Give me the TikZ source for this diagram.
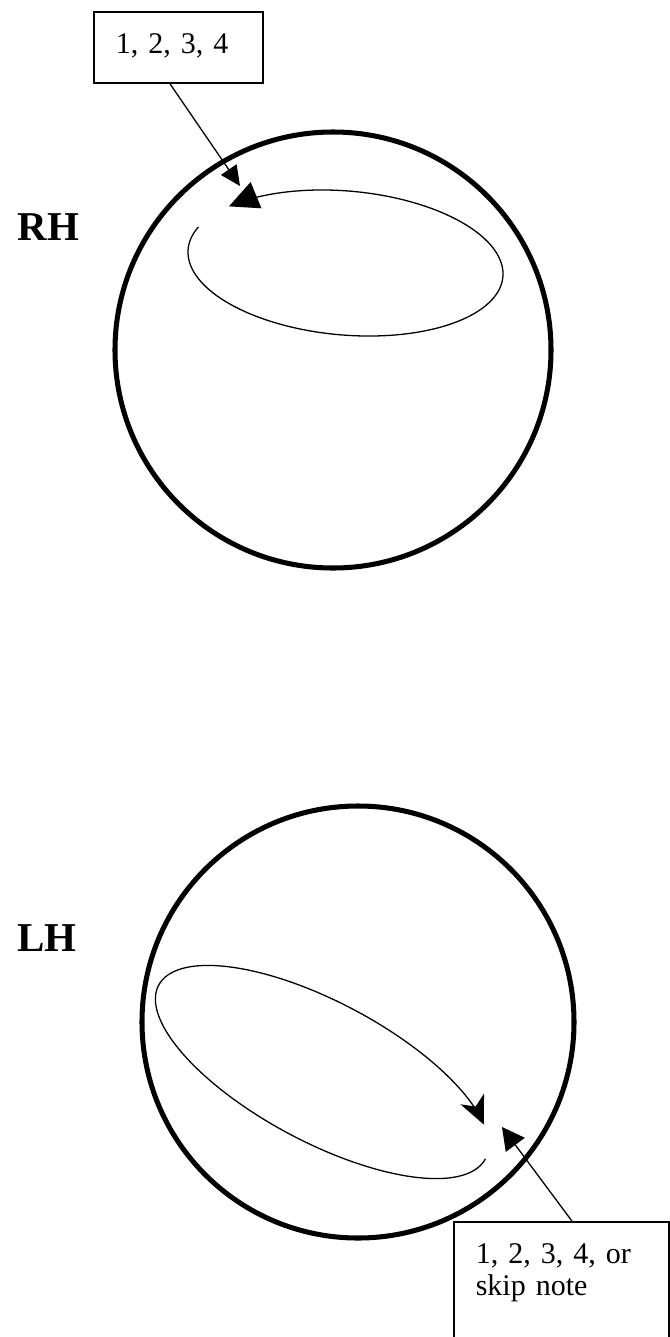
\documentclass[tikz,border=0pt]{standalone}
\usepackage{fontspec}
\setmainfont{Liberation Serif}
\usetikzlibrary{arrows.meta}

\begin{document}
\begin{tikzpicture}[x=0.03cm, y=-0.03cm, line width=1.1pt,
    esfera/.style={line width=4.3pt},
    bucle/.style={line width=1.1pt},
    nota/.style={draw, line width=1.4pt, inner xsep=0.66cm, inner ysep=0pt, align=left,
        text height=1.23cm, font=\fontsize{25.6pt}{27.3pt}\selectfont},
    mano/.style={inner sep=0pt, font=\fontsize{35pt}{40pt}\selectfont\bfseries},
    flecha/.style={-{Triangle[length=17pt,width=16pt]}}]
    \useasboundingbox (0,0) rectangle (670,1337);
    % mano derecha (arriba)
    \node[mano,anchor=base west] (rh) at (17,240) {RH};
    \draw[esfera] (333,350) circle[radius=6.54cm];
    % bucle: elipse girada 5 grados, centro (345.5,263)
    \draw[bucle,-{Triangle[length=25pt,width=24pt]}] plot[domain=198.6:-140,samples=140,variable=\t]
        ({345.5+158*cos(\t)*cos(5)-72*sin(\t)*sin(5)},{263+158*cos(\t)*sin(5)+72*sin(\t)*cos(5)});
    \node[nota,text width=3.75cm,text depth=0.9cm,anchor=base west] (notaA) at (93,53) {1, 2, 3, 4};
    \coordinate (puntaA) at (240,186);
    \draw[flecha] ([xshift=2.31cm]notaA.south west) -- (puntaA);
    % mano izquierda (abajo)
    \node[mano,anchor=base west] (lh) at (17,951) {LH};
    \draw[esfera] (358,1022) circle[radius=6.48cm];
    % bucle: elipse girada 28 grados, centro (322,1072)
    \draw[bucle,-{Stealth[length=24pt,width=22pt,inset=7pt]}] plot[domain=0:335,samples=140,variable=\t]
        ({322+185*cos(\t)*cos(28)-70*sin(\t)*sin(28)},{1072+185*cos(\t)*sin(28)+70*sin(\t)*cos(28)});
    \node[nota,text width=5.13cm,text depth=3cm,anchor=base west] (notaB) at (453,1263)
        {1, 2, 3, 4, or\\skip note};
    \coordinate (puntaB) at (502,1127);
    \draw[-{Triangle[length=19pt,width=20pt]}] ([xshift=3.57cm]notaB.north west) -- (puntaB);
\end{tikzpicture}
\end{document}
